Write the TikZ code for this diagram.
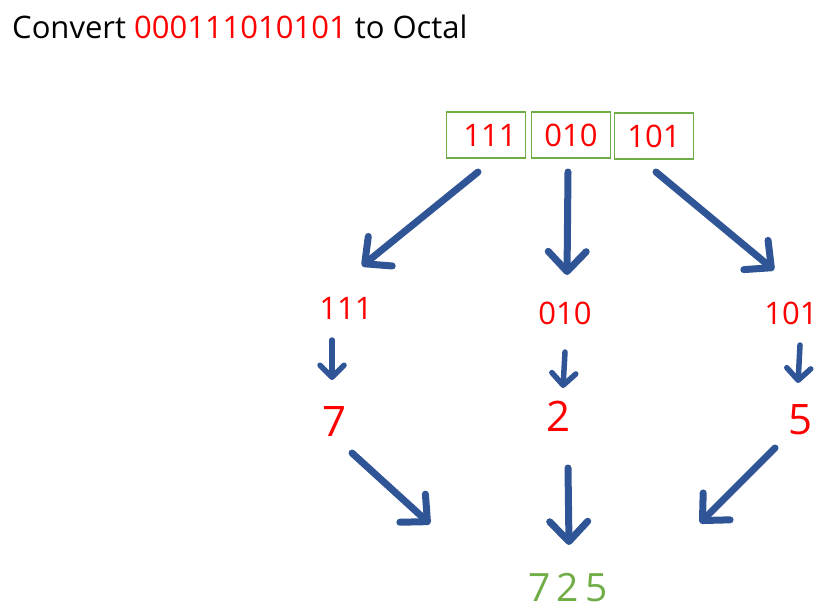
\documentclass[tikz,border=0pt]{standalone}
\usepackage{fontspec}
\setmainfont{Open Sans}
\usetikzlibrary{arrows.meta}
\definecolor{myred}{HTML}{FF0000}
\definecolor{myblue}{HTML}{2F5597}
\definecolor{mygreen}{HTML}{70AD47}
\begin{document}
\begin{tikzpicture}[x=1pt,y=-1pt,
  bitbox/.style={draw=mygreen,line width=1.2pt,minimum width=79pt,minimum height=46pt,inner sep=0pt,text=myred,font=\fontsize{31}{36}\selectfont},
  lbl/.style={inner sep=0pt,text=myred,font=\fontsize{31}{36}\selectfont},
  dig/.style={inner sep=0pt,text=myred,font=\fontsize{42}{48}\selectfont},
  bigarrow/.style={draw=myblue,line width=7pt,line cap=round,line join=round,
    -{Straight Barb[length=20pt,width=38pt,line width=7pt,round]}},
  smallarrow/.style={draw=myblue,line width=5.5pt,line cap=round,line join=round,
    -{Straight Barb[length=12pt,width=24pt,line width=5.5pt,round]}}]
\useasboundingbox (0,0) rectangle (840,610);
\node[anchor=base west,inner sep=0pt,font=\fontsize{31}{36}\selectfont] (title) at (12,38)
  {Convert \textcolor{myred}{000111010101} to Octal};
% boxes
\node[bitbox] (b1) at (486,135) {\hspace*{8pt}111};
\node[bitbox] (b2) at (571,135) {010};
\node[bitbox] (b3) at (654,136) {101};
% coordinates for arrow ends
\coordinate (s1) at (478,172);
\coordinate (e1) at (362,266);
\coordinate (s2) at (568,172);
\coordinate (e2) at (567,275);
\coordinate (s3) at (656,172);
\coordinate (e3) at (774,270);
\draw[bigarrow] (s1) -- (e1);
\draw[bigarrow] (s2) -- (e2);
\draw[bigarrow] (s3) -- (e3);
% second row
\node[lbl] (g1) at (346,308) {111};
\node[lbl] (g2) at (565,313) {010};
\node[lbl] (g3) at (791,313) {101};
\node[dig] (d1) at (335,422) {7};
\node[dig] (d2) at (558,416) {2};
\node[dig] (d3) at (800,420) {5};
\coordinate (p1) at (332,340);
\coordinate (q1) at (332,380);
\coordinate (p2) at (565,352);
\coordinate (q2) at (563,388);
\coordinate (p3) at (800,345);
\coordinate (q3) at (798,383);
\draw[smallarrow] (p1) -- (q1);
\draw[smallarrow] (p2) -- (q2);
\draw[smallarrow] (p3) -- (q3);
% result
\node[anchor=base,inner sep=0pt,text=mygreen,font=\fontsize{39}{44}\selectfont] (res) at (568,601) {7\,2\,5};
\coordinate (t1) at (352,453);
\coordinate (u1) at (430,524);
\coordinate (t2) at (568,468);
\coordinate (u2) at (569,545);
\coordinate (t3) at (775,448);
\coordinate (u3) at (700,523);
\draw[bigarrow] (t1) -- (u1);
\draw[bigarrow] (t2) -- (u2);
\draw[bigarrow] (t3) -- (u3);
\end{tikzpicture}
\end{document}
